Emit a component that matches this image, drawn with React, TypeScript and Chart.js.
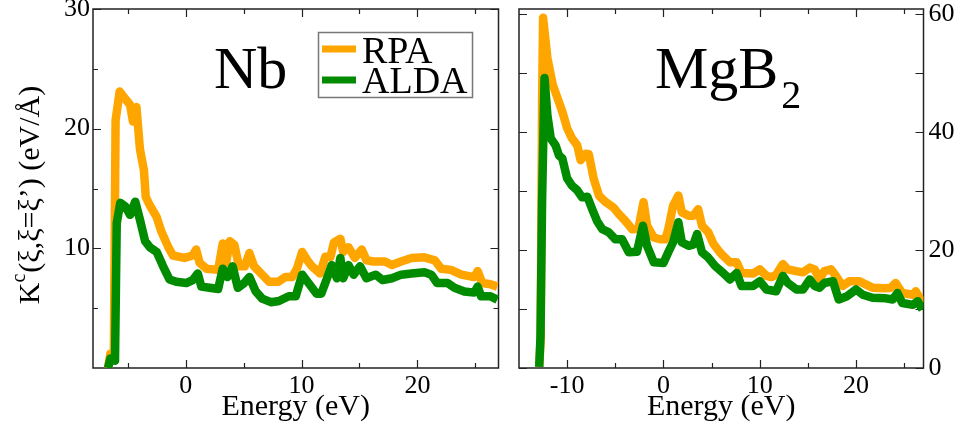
import React, { useEffect, useRef } from 'react';
import { Chart, registerables } from 'chart.js';
Chart.register(...registerables);

// ---------- data ----------
const nbRpaE = [-6.7, -6.5, -6.2, -6.05, -5.7, -5.3, -4.8, -4.55, -4.25, -3.95, -3.6, -3.45, -3.1, -2.5, -2.1, -1.5, -1.1, -0.1, 0.6, 0.9, 1.2, 1.8, 2.8, 3.2, 3.5, 3.8, 4.2, 4.6, 5.1, 5.5, 5.9, 6.6, 7.2, 8.0, 8.6, 9.2, 9.6, 10.05, 10.5, 10.9, 11.6, 12.05, 12.5, 12.8, 13.35, 13.6, 14.05, 14.3, 14.6, 15.2, 15.6, 16.2, 17.2, 17.8, 18.6, 19.5, 20.6, 21.5, 22.05, 22.9, 23.8, 24.9, 25.2, 25.6, 26.3, 26.9];
const nbRpaK = [0.0, 1.2, 1.2, 20.7, 23.1, 22.6, 22.0, 20.6, 21.8, 18.3, 16.5, 14.3, 13.6, 12.6, 11.4, 10.1, 9.4, 9.2, 9.4, 9.9, 8.8, 8.3, 8.2, 10.4, 8.8, 10.6, 10.3, 8.5, 8.5, 9.6, 8.5, 7.8, 7.2, 7.2, 7.6, 7.6, 8.3, 9.7, 9.0, 8.5, 7.9, 9.3, 9.3, 10.5, 10.8, 9.7, 10.1, 9.7, 9.2, 9.9, 9.0, 8.9, 8.9, 8.6, 8.9, 9.2, 9.25, 9.0, 8.3, 8.2, 7.8, 7.6, 8.1, 7.1, 7.0, 6.8];

const nbAldaE = [-6.7, -6.5, -6.1, -5.95, -5.65, -5.2, -4.8, -4.35, -3.95, -3.5, -3.1, -2.5, -1.95, -1.4, -0.8, 0.05, 0.6, 1.05, 1.35, 2.05, 2.8, 3.2, 3.6, 4.05, 4.5, 5.05, 5.5, 6.05, 6.6, 7.35, 8.05, 8.9, 9.5, 10.05, 10.6, 11.3, 11.7, 12.2, 12.6, 13.05, 13.35, 13.6, 14.05, 14.5, 15.05, 15.6, 16.4, 17.0, 17.8, 18.6, 19.5, 20.6, 21.2, 21.7, 22.6, 23.2, 24.05, 24.9, 25.2, 25.5, 26.3, 26.9];
const nbAldaK = [0.0, 0.8, 0.6, 12.1, 13.8, 13.5, 12.8, 13.9, 12.4, 10.6, 10.1, 9.7, 8.5, 7.4, 7.2, 7.1, 7.35, 7.9, 6.8, 6.7, 6.6, 8.3, 7.6, 8.5, 6.7, 7.1, 7.6, 6.4, 5.8, 5.5, 5.6, 6.0, 6.0, 7.8, 7.1, 6.2, 6.2, 7.5, 8.6, 7.5, 9.2, 7.5, 8.6, 7.8, 8.5, 7.5, 7.8, 7.35, 7.5, 7.8, 7.9, 8.0, 7.8, 7.1, 7.1, 6.7, 6.4, 6.3, 6.8, 6.0, 6.0, 5.7];

const mgRpaE = [-12.9, -12.75, -12.6, -12.5, -12.05, -11.5, -11.0, -10.5, -10.0, -9.5, -8.95, -8.6, -8.1, -7.75, -7.25, -6.7, -6.0, -5.2, -4.65, -3.95, -3.25, -2.6, -2.07, -1.7, -1.0, -0.35, 0.2, 0.5, 1.0, 1.55, 1.9, 2.6, 3.1, 3.6, 4.0, 4.65, 5.2, 5.85, 6.2, 6.9, 7.6, 8.1, 9.3, 10.0, 10.7, 11.2, 11.7, 12.4, 12.9, 13.8, 14.5, 15.2, 15.7, 16.2, 16.7, 17.4, 17.9, 18.6, 19.3, 20.3, 21.0, 21.7, 23.1, 23.6, 24.1, 24.8, 25.9, 26.2, 26.9];
const mgRpaK = [0.2, 5.0, 45.7, 59.3, 52.5, 48.0, 45.7, 43.4, 40.6, 38.9, 37.7, 35.2, 36.3, 36.2, 32.1, 29.2, 28.1, 27.2, 26.1, 24.9, 23.5, 23.6, 28.1, 24.1, 22.1, 21.8, 21.8, 23.5, 27.5, 29.2, 26.4, 25.8, 25.8, 26.9, 24.1, 23.0, 21.0, 19.6, 19.0, 17.9, 17.9, 16.1, 16.0, 16.7, 15.6, 15.4, 15.8, 17.6, 16.7, 16.4, 16.2, 17.0, 16.7, 15.0, 16.4, 16.7, 15.6, 13.9, 14.7, 14.7, 14.15, 13.6, 13.5, 13.6, 14.4, 12.7, 12.4, 13.0, 11.0];

const mgAldaE = [-12.9, -12.77, -12.6, -12.35, -12.05, -11.7, -11.2, -10.85, -10.5, -10.0, -9.5, -8.95, -8.45, -7.9, -7.4, -6.9, -6.35, -5.7, -5.0, -4.3, -3.6, -2.75, -2.13, -1.7, -1.0, 0.0, 0.5, 1.0, 1.55, 1.9, 2.6, 3.1, 3.5, 4.0, 4.65, 5.35, 6.2, 6.9, 7.6, 8.1, 9.3, 10.0, 10.7, 11.7, 12.4, 12.9, 13.8, 14.5, 15.2, 15.7, 16.2, 16.7, 17.6, 18.2, 19.0, 20.0, 20.7, 21.7, 23.1, 23.8, 24.3, 24.8, 25.9, 26.4, 26.9];
const mgAldaK = [0.2, 5.3, 28.6, 49.1, 42.8, 38.9, 37.7, 36.0, 35.5, 32.1, 30.9, 30.1, 28.9, 29.0, 26.9, 24.9, 23.5, 23.0, 21.8, 21.8, 19.6, 19.7, 24.1, 20.7, 17.9, 17.8, 19.6, 21.3, 24.7, 21.3, 20.7, 20.9, 22.7, 19.6, 18.7, 17.3, 16.1, 15.0, 16.1, 13.9, 13.9, 14.7, 13.3, 13.0, 15.6, 14.4, 13.3, 13.3, 15.0, 13.9, 13.6, 14.4, 14.7, 11.6, 12.1, 13.3, 12.4, 11.9, 11.8, 11.6, 12.7, 11.0, 10.7, 11.3, 9.9];

const nbXTicks = [-5, 0, 5, 10, 15, 20, 25];
const nbYTicks = [5, 10, 15, 20, 25, 30];
const mgXTicks = [-10, -5, 0, 5, 10, 15, 20, 25];
const mgYTicks = [0, 10, 20, 30, 40, 50, 60];

const seriesLabels = ['RPA', 'ALDA'];
const seriesColors = ['#ffa500', '#008b00'];
const xTitle = 'Energy (eV)';
const yTitleMain = 'K';
const yTitleSup = 'c';
const yTitleRest = '(ξ,ξ=ξ’) (eV/Å)';
const nbName = 'Nb';
const mgName = 'MgB';
const mgSub = '2';

const SERIF = "'Liberation Serif', 'Times New Roman', serif";

function pts(xs: number[], ys: number[]) {
  return xs.map((x, i) => ({ x, y: ys[i] }));
}

function frameTicksPlugin() {
  return {
    id: 'frameTicks',
    beforeDatasetsDraw(chart: any) {
      const { ctx, chartArea: a, scales } = chart;
      const xs = scales.x;
      const ys = scales.y;
      ctx.save();
      ctx.strokeStyle = '#222';
      ctx.lineWidth = 1.5;
      ctx.strokeRect(a.left, a.top, a.right - a.left, a.bottom - a.top);
      ctx.beginPath();
      xs.ticks.forEach((t: any) => {
        const px = Math.round(xs.getPixelForValue(t.value)) + 0.5;
        const len = t.value % 10 === 0 ? 8 : 5;
        ctx.moveTo(px, a.bottom);
        ctx.lineTo(px, a.bottom - len);
        ctx.moveTo(px, a.top);
        ctx.lineTo(px, a.top + len);
      });
      ys.ticks.forEach((t: any) => {
        const py = Math.round(ys.getPixelForValue(t.value)) + 0.5;
        const len = t.value % 10 === 0 ? 8 : 5;
        ctx.moveTo(a.left, py);
        ctx.lineTo(a.left + len, py);
        ctx.moveTo(a.right, py);
        ctx.lineTo(a.right - len, py);
      });
      ctx.lineWidth = 1.2;
      ctx.stroke();
      ctx.restore();
    },
  };
}

function buildConfig(o: any) {
  const ds = (i: number, xs: number[], ys: number[]) => ({
    label: seriesLabels[i],
    data: pts(xs, ys),
    borderColor: seriesColors[i],
    backgroundColor: seriesColors[i],
    borderWidth: 8.5,
    pointRadius: 0,
    tension: 0,
    fill: false,
    order: 2 - i,
    borderJoinStyle: 'round',
    borderCapStyle: 'butt',
  });
  return {
    type: 'line',
    data: {
      datasets: [ds(0, o.rpaE, o.rpaK), ds(1, o.aldaE, o.aldaK)],
    },
    options: {
      responsive: false,
      animation: false,
      devicePixelRatio: 1,
      layout: { padding: o.padding },
      plugins: { legend: { display: false }, tooltip: { enabled: false } },
      scales: {
        x: {
          type: 'linear',
          position: 'bottom',
          min: o.xMin,
          max: o.xMax,
          afterBuildTicks: (s: any) => {
            s.ticks = o.xTicks.map((v: number) => ({ value: v }));
          },
          afterFit: (s: any) => {
            s.height = 64;
            s.paddingLeft = 0;
            s.paddingRight = 0;
          },
          grid: { display: false, drawTicks: false },
          border: { display: false },
          ticks: {
            autoSkip: false,
            maxRotation: 0,
            padding: 3,
            color: '#000',
            font: { family: SERIF, size: 26 },
            callback: (v: number) => (v % 10 === 0 ? String(v) : ''),
          },
          title: {
            display: true,
            text: xTitle,
            color: '#000',
            font: { family: SERIF, size: 30 },
            padding: { top: 0, bottom: 7 },
          },
        },
        y: {
          type: 'linear',
          position: o.yPos,
          min: o.yMin,
          max: o.yMax,
          afterBuildTicks: (s: any) => {
            s.ticks = o.yTicks.map((v: number) => ({ value: v }));
          },
          afterFit: (s: any) => {
            s.width = o.yWidth;
            s.paddingTop = 0;
            s.paddingBottom = 0;
          },
          grid: { display: false, drawTicks: false },
          border: { display: false },
          ticks: {
            autoSkip: false,
            padding: o.yPad,
            color: '#000',
            font: { family: SERIF, size: 26 },
            callback: (v: number) => (v % 20 === 0 || (o.yStep10 && v % 10 === 0) ? (o.hideZero && v === 0 ? '' : String(v)) : ''),
          },
        },
      },
    },
    plugins: [frameTicksPlugin(), o.textPlugin],
  };
}

const nbTextPlugin = {
  id: 'nbText',
  afterDraw(chart: any) {
    const { ctx } = chart;
    ctx.save();
    ctx.fillStyle = '#000';
    ctx.textBaseline = 'alphabetic';
    ctx.textAlign = 'left';
    // panel name
    ctx.font = `60px ${SERIF}`;
    ctx.fillText(nbName, 214, 88);
    // legend
    ctx.strokeStyle = '#777';
    ctx.lineWidth = 1.5;
    ctx.strokeRect(318.5, 32.5, 154, 65);
    const lys = [49, 80];
    const bys = [63, 93];
    for (let i = 0; i < 2; i++) {
      ctx.beginPath();
      ctx.strokeStyle = seriesColors[i];
      ctx.lineWidth = 7;
      ctx.moveTo(322, lys[i]);
      ctx.lineTo(356, lys[i]);
      ctx.stroke();
      ctx.fillStyle = '#000';
      ctx.font = `38px ${SERIF}`;
      ctx.fillText(chart.data.datasets[i].label, 362, bys[i]);
    }
    // y axis title
    ctx.translate(39, 195);
    ctx.rotate(-Math.PI / 2);
    ctx.font = `30px ${SERIF}`;
    const wK = ctx.measureText(yTitleMain).width;
    const wR = ctx.measureText(yTitleRest).width;
    ctx.font = `20px ${SERIF}`;
    const wS = ctx.measureText(yTitleSup).width;
    const total = wK + wS + 1 + wR;
    let x = -total / 2;
    ctx.font = `30px ${SERIF}`;
    ctx.fillText(yTitleMain, x, 0);
    x += wK;
    ctx.font = `20px ${SERIF}`;
    ctx.fillText(yTitleSup, x, -14);
    x += wS + 1;
    ctx.font = `30px ${SERIF}`;
    ctx.fillText(yTitleRest, x, 0);
    ctx.restore();
  },
};

const mgTextPlugin = {
  id: 'mgText',
  afterDraw(chart: any) {
    const { ctx } = chart;
    ctx.save();
    ctx.fillStyle = '#000';
    ctx.textBaseline = 'alphabetic';
    ctx.textAlign = 'left';
    ctx.font = `60px ${SERIF}`;
    const x0 = 147;
    ctx.fillText(mgName, x0, 88);
    const w = ctx.measureText(mgName).width;
    ctx.font = `40px ${SERIF}`;
    ctx.fillText(mgSub, x0 + w + 3, 108);
    ctx.restore();
  },
};

export default function App() {
  const leftRef = useRef<HTMLCanvasElement>(null);
  const rightRef = useRef<HTMLCanvasElement>(null);

  useEffect(() => {
    const c1 = new Chart(
      leftRef.current as any,
      buildConfig({
        rpaE: nbRpaE, rpaK: nbRpaK, aldaE: nbAldaE, aldaK: nbAldaK,
        xMin: -8, xMax: 27, yMin: 0, yMax: 30,
        xTicks: nbXTicks, yTicks: nbYTicks,
        yPos: 'left', yWidth: 93, yPad: 3, yStep10: true, hideZero: true,
        padding: { left: 0, top: 9, right: 9.5, bottom: 0 },
        textPlugin: nbTextPlugin,
      }) as any
    );
    const c2 = new Chart(
      rightRef.current as any,
      buildConfig({
        rpaE: mgRpaE, rpaK: mgRpaK, aldaE: mgAldaE, aldaK: mgAldaK,
        xMin: -15, xMax: 27, yMin: 0, yMax: 60.8,
        xTicks: mgXTicks, yTicks: mgYTicks,
        yPos: 'right', yWidth: 34.5, yPad: 5, yStep10: false, hideZero: false,
        padding: { left: 11, top: 9, right: 0, bottom: 0 },
        textPlugin: mgTextPlugin,
      }) as any
    );
    return () => {
      c1.destroy();
      c2.destroy();
    };
  }, []);

  return (
    <div style={{ position: 'absolute', left: 0, top: 0, width: 958, height: 432, background: '#fff' }}>
      <canvas ref={leftRef} width={508} height={432} style={{ position: 'absolute', left: 0, top: 0, width: 508, height: 432 }} />
      <canvas ref={rightRef} width={450} height={432} style={{ position: 'absolute', left: 508, top: 0, width: 450, height: 432 }} />
    </div>
  );
}
